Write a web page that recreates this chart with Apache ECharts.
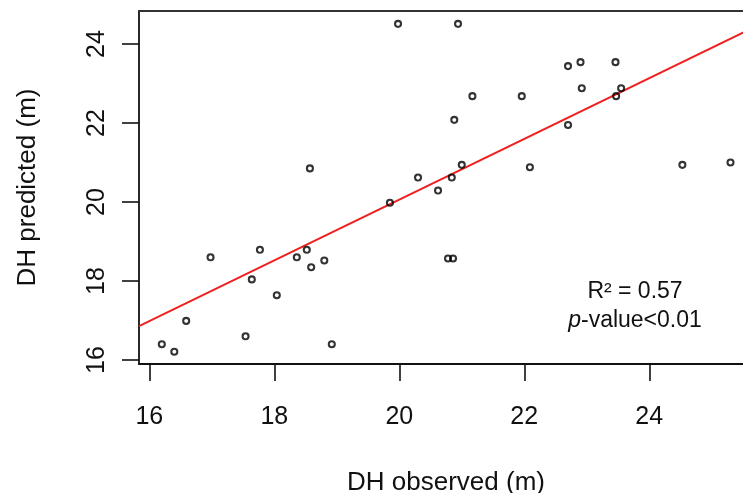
<!DOCTYPE html>
<html>
<head>
<meta charset="utf-8">
<script src="https://cdn.jsdelivr.net/npm/echarts@6/dist/echarts.min.js"></script>
<style>
html,body{margin:0;padding:0;background:#fff;}
#chart{width:743px;height:493px;}
</style>
</head>
<body>
<div id="chart"></div>
<script>
// Observed DH (m)
var observed = [16.20, 16.40, 16.59, 16.98, 17.54, 17.64, 17.77, 18.04, 18.36, 18.52,
  18.59, 18.57, 18.80, 18.92, 19.85, 19.98, 20.30, 20.62, 20.78, 20.86,
  20.84, 20.88, 20.94, 21.00, 21.17, 21.96, 22.09, 22.70, 22.70, 22.90,
  22.92, 23.46, 23.47, 23.55, 24.53, 25.30];
// Predicted DH (m)
var predicted = [16.40, 16.21, 16.99, 18.60, 16.60, 18.04, 18.79, 17.64, 18.60, 18.79,
  18.35, 20.85, 18.52, 16.40, 19.98, 24.51, 20.62, 20.29, 18.57, 18.57,
  20.62, 22.08, 24.51, 20.94, 22.68, 22.68, 20.88, 23.44, 21.95, 23.54,
  22.88, 23.54, 22.68, 22.88, 20.94, 21.00];
// Tick labels
var xTicks = [16, 18, 20, 22, 24];
var yTicks = [16, 18, 20, 22, 24];
// Axis ranges (the plot box continues a little past the right edge of the picture)
var xRange = [15.835, 25.66];
var yRange = [15.899, 24.835];
// Regression line (abline) coefficients
var fitIntercept = 4.68;
var fitSlope = 0.769;

var points = observed.map(function (x, i) { return [x, predicted[i]]; });
var fitLine = xRange.map(function (x) { return [x, fitIntercept + fitSlope * x]; });

var FONT = '"Liberation Sans", Arial, sans-serif';
var INK = '#111';
var chart = echarts.init(document.getElementById('chart'), null, {renderer: 'canvas'});
chart.setOption({
  backgroundColor: '#ffffff',
  animation: false,
  grid: {left: 139, top: 11, right: -10, bottom: 129, show: false,
    containLabel: false, outerBoundsMode: 'none'},
  xAxis: [
    {
      type: 'value', position: 'bottom', min: xRange[0], max: xRange[1],
      name: 'DH observed (m)', nameLocation: 'middle', nameGap: 106,
      nameTextStyle: {fontFamily: FONT, fontSize: 26, color: INK},
      axisLine: {show: true, onZero: false, lineStyle: {color: INK, width: 1.8}},
      axisTick: {show: true, inside: false, length: 17, customValues: xTicks,
        lineStyle: {color: INK, width: 1.6}},
      axisLabel: {customValues: xTicks, margin: 41, fontFamily: FONT, fontSize: 25, color: INK},
      splitLine: {show: false}
    },
    {
      type: 'value', position: 'top', min: xRange[0], max: xRange[1],
      axisLine: {show: true, onZero: false, lineStyle: {color: '#333', width: 2}},
      axisTick: {show: false}, axisLabel: {show: false}, splitLine: {show: false}
    }
  ],
  yAxis: {
    type: 'value', min: yRange[0], max: yRange[1],
    name: 'DH predicted (m)', nameLocation: 'middle', nameGap: 98, nameRotate: 90,
    nameTextStyle: {fontFamily: FONT, fontSize: 26, color: INK},
    axisLine: {show: true, onZero: false, lineStyle: {color: INK, width: 1.8}},
    axisTick: {show: true, inside: false, length: 17, customValues: yTicks,
      lineStyle: {color: INK, width: 1.6}},
    axisLabel: {customValues: yTicks, rotate: 90, margin: 29, fontFamily: FONT, fontSize: 25, color: INK},
    splitLine: {show: false}
  },
  series: [
    {
      type: 'line', xAxisIndex: 0, data: fitLine, showSymbol: false, symbol: 'none',
      lineStyle: {color: '#f02020', width: 2}, z: 2, silent: true
    },
    {
      type: 'scatter', xAxisIndex: 0, data: points, symbol: 'circle', symbolSize: 6,
      itemStyle: {color: 'rgba(0,0,0,0)', borderColor: '#000', borderWidth: 2.1},
      z: 3
    }
  ],
  graphic: [
    {
      type: 'text', x: 635, y: 277,
      style: {
        text: '{a|R² = 0.57}\n{i|p}{a|-value<0.01}',
        align: 'center', verticalAlign: 'top',
        fill: INK,
        rich: {
          a: {fontFamily: FONT, fontSize: 23, lineHeight: 29, fill: INK},
          i: {fontFamily: FONT, fontSize: 23, fontStyle: 'italic', lineHeight: 29, fill: INK}
        }
      }
    }
  ]
});
</script>
</body>
</html>
